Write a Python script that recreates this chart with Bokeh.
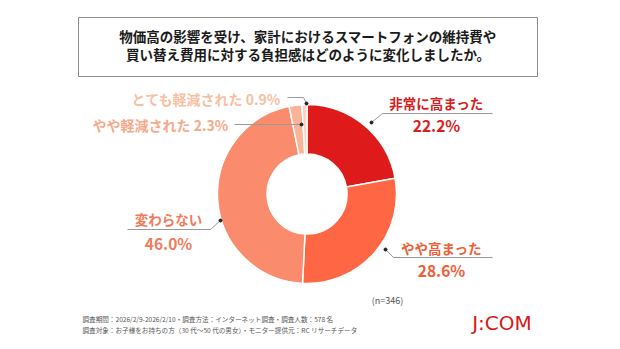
import math
from bokeh.plotting import figure
from bokeh.models import Range1d
from bokeh.core.properties import value
from bokeh.embed import file_html
from bokeh.resources import INLINE

# ---- data ----
categories = ["非常に高まった", "やや高まった", "変わらない", "やや軽減された", "とても軽減された"]
shares = [22.2, 28.6, 46.0, 2.3, 0.9]
title_lines = ["物価高の影響を受け、家計におけるスマートフォンの維持費や",
               "買い替え費用に対する負担感はどのように変化しましたか。"]
n_note = "(n=346)"
footer_lines = ["調査期間：2026/2/9-2026/2/10・調査方法：インターネット調査・調査人数：578 名",
                "調査対象：お子様をお持ちの方（30 代～50 代の男女）・モニター提供元：RC リサーチデータ"]
logo = "J:COM"

# ---- styles ----
slice_colors = ["#DE1B1A", "#FF6744", "#FA8B6D", "#FBB398", "#FDD3C0"]
text_colors = ["#D91E1E", "#F05E38", "#F27B5B", "#F6A98A", "#F8BFA4"]
FONT = value("Noto Sans CJK JP")
W, H = 620, 349


def fy(y):
    return H - y


p = figure(width=W, height=H, output_backend="svg", toolbar_location=None,
           x_range=Range1d(0, W), y_range=Range1d(0, H),
           x_axis_type=None, y_axis_type=None, min_border=0,
           background_fill_color="white", border_fill_color="white")
p.grid.visible = False
p.outline_line_color = None

# ---- donut ----
cx, cy = 306.5, fy(193.5)
total = sum(shares)
cum = 0.0
starts, ends = [], []
for s in shares:
    a0 = math.pi / 2 - 2 * math.pi * (cum + s) / total
    a1 = math.pi / 2 - 2 * math.pi * cum / total
    starts.append(a0)
    ends.append(a1)
    cum += s
p.annular_wedge(x=[cx] * len(shares), y=[cy] * len(shares),
                inner_radius=40, outer_radius=89.5,
                inner_radius_units="screen", outer_radius_units="screen",
                start_angle=starts, end_angle=ends,
                fill_color=slice_colors, line_color="white", line_width=1.5)

# ---- title box ----
p.quad(left=[78], right=[537], top=[fy(17)], bottom=[fy(76)],
       fill_color=None, line_color="#8C8C8C", line_width=1)
for i, t in enumerate(title_lines):
    p.text(x=[307.5], y=[fy(35 + i * 18.5)], text=[t], text_font=FONT,
           text_font_size="13.5px", text_font_style="bold", text_color="#1A1A1A",
           text_align="center", text_baseline="middle")

pct = [f"{v:.1f}%" for v in shares]

# two-line labels (index, center x, name y, pct y, underline, dot)
two_line = [
    (0, 436, 102, 124, [(371, 122), (382, 113), (492, 113)]),
    (1, 441, 247, 269, [(385, 249), (393, 257), (492, 257)]),
    (2, 168, 218, 242, [(220, 220), (210, 229), (127, 229)]),
]
for idx, x, yn, yp, pts in two_line:
    p.line(x=[a for a, b in pts], y=[fy(b) for a, b in pts], line_color="#9A9A9A", line_width=1)
    p.scatter(x=[pts[0][0]], y=[fy(pts[0][1])], size=3, color="#222222")
    p.text(x=[x], y=[fy(yn)], text=[categories[idx]], text_font=FONT,
           text_font_size="13.5px", text_font_style="bold", text_color=text_colors[idx],
           text_align="center", text_baseline="middle")
    p.text(x=[x], y=[fy(yp)], text=[pct[idx]], text_font=FONT,
           text_font_size="15.5px", text_font_style="bold", text_color=text_colors[idx],
           text_align="center", text_baseline="middle")

# one-line labels (index, right x, y, leader points)
one_line = [
    (3, 231, 124, [(301, 124), (234, 124)]),
    (4, 284, 98, [(306, 103), (303, 97), (287, 97)]),
]
for idx, x, y, pts in one_line:
    p.line(x=[a for a, b in pts], y=[fy(b) for a, b in pts], line_color="#9A9A9A", line_width=1)
    p.scatter(x=[pts[0][0]], y=[fy(pts[0][1])], size=3, color="#222222")
    p.text(x=[x], y=[fy(y)], text=[f"{categories[idx]}  {pct[idx]}"], text_font=FONT,
           text_font_size="14px", text_font_style="bold", text_color=text_colors[idx],
           text_align="right", text_baseline="middle")

# ---- notes ----
p.text(x=[387], y=[fy(300)], text=[n_note], text_font=FONT, text_font_size="9px",
       text_color="#555555", text_align="center", text_baseline="middle")
for i, t in enumerate(footer_lines):
    p.text(x=[82], y=[fy(318 + i * 11)], text=[t], text_font=FONT, text_font_size="6.6px",
           text_color="#555555", text_align="left", text_baseline="middle")
p.text(x=[501.5], y=[fy(322)], text=[logo], text_font=value("DejaVu Sans"), text_font_size="20px",
       text_color="#D71A1A", text_align="center", text_baseline="middle")

open("out.html", "w").write(file_html(p, INLINE))
